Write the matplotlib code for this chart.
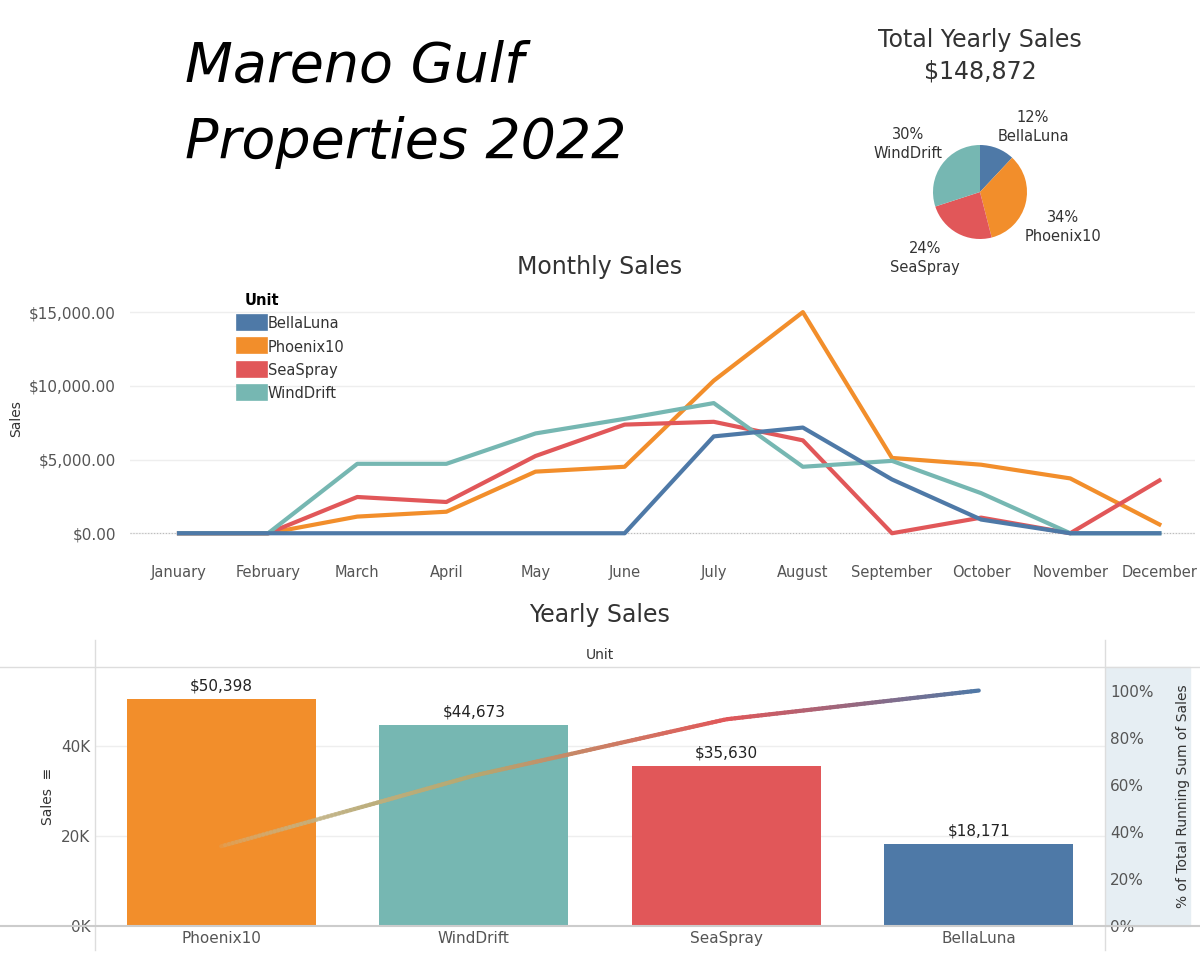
import numpy as np
import matplotlib.pyplot as plt
from matplotlib.collections import LineCollection
from matplotlib.colors import to_rgb

months = ["January", "February", "March", "April", "May", "June", "July",
          "August", "September", "October", "November", "December"]
units = ["BellaLuna", "Phoenix10", "SeaSpray", "WindDrift"]
bella = [0, 0, 0, 0, 0, 0, 6570, 7170, 3650, 930, 0, 0]
phoenix = [0, 0, 1130, 1460, 4180, 4510, 10350, 15000, 5110, 4650, 3720, 600]
seaspray = [0, 0, 2460, 2120, 5240, 7370, 7560, 6300, 0, 1060, 0, 3580]
winddrift = [0, 0, 4710, 4710, 6770, 7760, 8830, 4510, 4910, 2720, 0, 0]
yearly_units = ["Phoenix10", "WindDrift", "SeaSpray", "BellaLuna"]
yearly_sales = [50398, 44673, 35630, 18171]
pie_share = [12, 34, 24, 30]  # BellaLuna, Phoenix10, SeaSpray, WindDrift

colors = {"BellaLuna": "#4e79a7", "Phoenix10": "#f28e2b",
          "SeaSpray": "#e15759", "WindDrift": "#76b7b2"}
grey = "#555555"

fig = plt.figure(figsize=(12, 9.6), dpi=100)
W, H = 1200, 960
def ax_at(x0, y0, x1, y1):
    return fig.add_axes([x0 / W, 1 - y1 / H, (x1 - x0) / W, (y1 - y0) / H])

# title
fig.text(185 / W, 1 - 82 / H, "Mareno Gulf", fontsize=40, style="italic", va="baseline")
fig.text(185 / W, 1 - 158 / H, "Properties 2022", fontsize=40, style="italic", va="baseline")

# pie
fig.text(980 / W, 1 - 40 / H, "Total Yearly Sales", fontsize=17, ha="center", va="center", color="#333333")
fig.text(980 / W, 1 - 72 / H, "${:,}".format(sum(yearly_sales)), fontsize=17, ha="center", va="center", color="#333333")
pax = ax_at(933, 145, 1027, 239)
pax.pie(pie_share, colors=[colors[u] for u in units], startangle=90, counterclock=False,
        wedgeprops=dict(linewidth=0), radius=1)
pax.set_xlim(-1, 1)
pax.set_ylim(-1, 1)
pax.set_aspect("equal")
for (x, y, u, p) in [(1033, 127, "BellaLuna", 12), (1063, 227, "Phoenix10", 34),
                     (925, 258, "SeaSpray", 24), (908, 144, "WindDrift", 30)]:
    fig.text(x / W, 1 - y / H, f"{p}%\n{u}", fontsize=10.5, ha="center", va="center",
             color="#333333", linespacing=1.3)

# monthly sales
lax = ax_at(130, 290, 1195, 548)
x = np.arange(len(months))
for u, vals in zip(units, [bella, phoenix, seaspray, winddrift]):
    lax.plot(x, vals, color=colors[u], lw=3, label=u, zorder=3 if u != "BellaLuna" else 4)
lax.set_xlim(-0.55, 11.4)
lax.set_ylim(-1000, 16500)
lax.set_yticks([0, 5000, 10000, 15000])
lax.set_yticklabels(["${:,.2f}".format(v) for v in [0, 5000, 10000, 15000]])
lax.set_xticks(x)
lax.set_xticklabels(months)
lax.grid(axis="y", color="#eeeeee", lw=1)
lax.axhline(0, color="#bbbbbb", lw=0.8, ls=":")
for s in lax.spines.values():
    s.set_visible(False)
lax.tick_params(axis="x", length=0, labelsize=10.5, colors=grey, pad=12)
lax.tick_params(axis="y", length=0, labelsize=11, colors=grey, pad=10)
lax.set_ylabel("Sales", fontsize=10, color="#333333")
lax.yaxis.set_label_coords(-0.1, 0.5)
fig.text(600 / W, 1 - 267 / H, "Monthly Sales", fontsize=17, ha="center", va="center", color="#333333")
leg = lax.legend(loc="upper left", bbox_to_anchor=(0.095, 1.04), frameon=False, title="Unit",
                 handlelength=1.0, handleheight=1.2, fontsize=10.5, labelspacing=0.55,
                 handletextpad=0.6)
leg._legend_box.align = "left"
leg.get_title().set_fontsize(10.5)
leg.get_title().set_fontweight("bold")
for h in leg.legend_handles:
    h.set_linewidth(12)
for t in leg.get_texts():
    t.set_color("#333333")

# yearly sales
fig.text(600 / W, 1 - 615 / H, "Yearly Sales", fontsize=17, ha="center", va="center", color="#333333")
fig.text(600 / W, 1 - 655 / H, "Unit", fontsize=10, ha="center", va="center", color="#333333")
fig.add_artist(plt.Line2D([0, 1], [1 - 667 / H] * 2, color="#dddddd", lw=1))
fig.add_artist(plt.Line2D([95 / W] * 2, [1 - 950 / H, 1 - 640 / H], color="#dddddd", lw=1))
fig.add_artist(plt.Line2D([1105 / W] * 2, [1 - 950 / H, 1 - 640 / H], color="#dddddd", lw=1))
fig.add_artist(plt.Line2D([0, 1], [1 - 926 / H] * 2, color="#cccccc", lw=1.5))

bax = ax_at(95, 667, 1105, 926)
bx = np.arange(len(yearly_units))
bax.bar(bx, yearly_sales, width=0.75, color=[colors[u] for u in yearly_units], zorder=2)
for xi, v in zip(bx, yearly_sales):
    bax.text(xi, v + 1200, "${:,}".format(v), ha="center", va="bottom", fontsize=11, color="#222222")
bax.set_xlim(-0.5, 3.5)
bax.set_ylim(0, 57500)
bax.set_yticks([0, 20000, 40000])
bax.set_yticklabels(["0K", "20K", "40K"])
bax.set_xticks(bx)
bax.set_xticklabels(yearly_units)
bax.grid(axis="y", color="#eeeeee", lw=1, zorder=0)
for s in bax.spines.values():
    s.set_visible(False)
bax.tick_params(length=0, labelsize=11, colors=grey)
bax.set_ylabel("Sales  \u2261", fontsize=10, color="#333333")

rax = bax.twinx()
run = np.cumsum(yearly_sales) / sum(yearly_sales)
rax.set_ylim(0, 1.1)
rax.set_yticks([0, 0.2, 0.4, 0.6, 0.8, 1.0])
rax.set_yticklabels(["0%", "20%", "40%", "60%", "80%", "100%"])
for s in rax.spines.values():
    s.set_visible(False)
rax.tick_params(length=0, labelsize=11, colors=grey)
rax.set_ylabel("% of Total Running Sum of Sales", fontsize=10, color="#333333")
# gradient line
xs = np.linspace(0, 3, 200)
ys = np.interp(xs, bx, run)
pts = np.column_stack([xs, ys]).reshape(-1, 1, 2)
segs = np.concatenate([pts[:-1], pts[1:]], axis=1)
stops = [to_rgb("#c8b890"), to_rgb("#b5a870"), to_rgb("#e15759"), to_rgb("#4e79a7")]
sx = [0, 1, 2, 3]
cols = [tuple(np.interp(v, sx, [c[i] for c in stops]) for i in range(3)) for v in xs[:-1]]
alphas = np.clip(np.interp(xs[:-1], [0, 0.6, 3], [0.2, 1, 1]), 0, 1)
cols = [(*c, a) for c, a in zip(cols, alphas)]
rax.add_collection(LineCollection(segs, colors=cols, lw=3, zorder=5, capstyle="round"))

# right panel shade
fig.patches.append(plt.Rectangle((1105 / W, 1 - 926 / H), 85 / W, 259 / H,
                                 transform=fig.transFigure, color="#e6eef3", zorder=-1))
rax.yaxis.set_label_coords(1.07, 0.5)

fig.savefig("out.png", dpi=100)
